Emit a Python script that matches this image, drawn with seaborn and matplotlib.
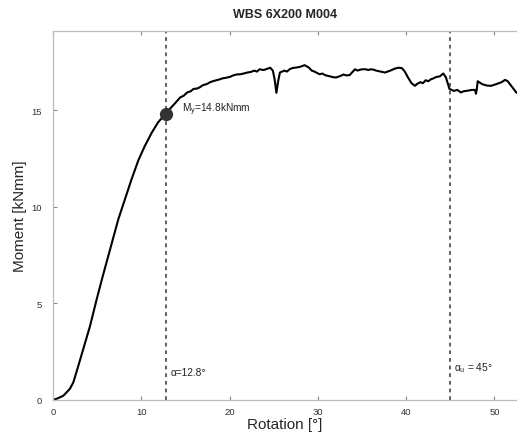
import matplotlib
matplotlib.use("Agg")
import matplotlib.pyplot as plt
import seaborn as sns
import pandas as pd

# Moment-rotation curve, 10 values per line
rotation = [0.0, 0.5, 1.17, 1.9, 2.3, 2.87, 3.43, 4.2, 4.95, 5.6,
            6.2, 6.8, 7.4, 8.15, 8.9, 9.66, 10.4, 11.2, 11.9, 12.8,
            13.5, 13.9, 14.4, 14.8, 15.2, 15.6, 15.9, 16.3, 16.6, 17.0,
            17.4, 17.8, 18.1, 18.5, 18.9, 19.2, 19.6, 20.0, 20.4, 20.8,
            21.2, 21.6, 22.0, 22.4, 22.8, 23.1, 23.4, 23.8, 24.0, 24.3,
            24.6, 24.9, 25.1, 25.3, 25.5, 25.7, 26.2, 26.5, 26.8, 27.1,
            27.4, 27.7, 28.0, 28.5, 29.0, 29.3, 29.6, 30.2, 30.5, 30.8,
            31.1, 31.4, 31.8, 32.1, 32.6, 32.9, 33.2, 33.6, 34.2, 34.5,
            34.8, 35.1, 35.4, 35.7, 36.0, 36.3, 36.6, 37.1, 37.6, 37.9,
            38.2, 38.7, 39.1, 39.5, 39.8, 40.2, 40.6, 41.0, 41.2, 41.6,
            41.9, 42.2, 42.5, 42.8, 43.1, 43.4, 43.8, 44.2, 44.5, 44.9,
            45.4, 45.8, 46.2, 46.5, 46.8, 47.1, 47.4, 47.8, 47.9, 48.0,
            48.1, 48.6, 49.1, 49.6, 50.2, 50.8, 51.2, 51.5, 52.0, 52.5]
moment = [0.0, 0.08, 0.22, 0.57, 0.91, 1.77, 2.64, 3.84, 5.22, 6.35,
          7.35, 8.35, 9.36, 10.4, 11.43, 12.4, 13.15, 13.85, 14.37, 14.85,
          15.2, 15.4, 15.66, 15.75, 15.92, 15.98, 16.1, 16.12, 16.18, 16.3,
          16.35, 16.45, 16.5, 16.55, 16.6, 16.65, 16.68, 16.72, 16.8, 16.85,
          16.86, 16.9, 16.95, 16.98, 17.05, 17.0, 17.12, 17.08, 17.1, 17.15,
          17.2, 17.05, 16.6, 15.9, 16.5, 16.95, 17.05, 17.0, 17.12, 17.18,
          17.2, 17.22, 17.25, 17.33, 17.2, 17.05, 17.0, 16.86, 16.9, 16.82,
          16.78, 16.75, 16.7, 16.7, 16.78, 16.85, 16.8, 16.82, 17.12, 17.05,
          17.1, 17.12, 17.12, 17.08, 17.12, 17.1, 17.05, 17.0, 16.95, 17.0,
          17.05, 17.15, 17.2, 17.18, 17.03, 16.7, 16.4, 16.26, 16.35, 16.45,
          16.4, 16.55, 16.5, 16.6, 16.65, 16.72, 16.75, 16.9, 16.7, 16.1,
          16.0, 16.05, 15.92, 15.98, 16.0, 16.02, 16.05, 16.05, 15.85, 16.1,
          16.5, 16.35, 16.28, 16.26, 16.35, 16.45, 16.57, 16.5, 16.2, 15.9]

yield_rot = 12.8
yield_moment = 14.8
ultimate_rot = 45.0
title_text = "WBS 6X200 M004"
x_ticks = [0, 10, 20, 30, 40, 50]
y_ticks = [0, 5, 10, 15]

df = pd.DataFrame({"Rotation": rotation, "Moment": moment})

sns.set_style("white")
plt.rcParams["font.family"] = ["Liberation Sans", "DejaVu Sans"]
plt.rcParams["mathtext.fontset"] = "custom"
plt.rcParams["mathtext.rm"] = "Liberation Sans"

fig = plt.figure(figsize=(5.17, 4.39), dpi=100)
ax = fig.add_axes([53 / 517, 1 - 401 / 439, (517 - 53) / 517, (401 - 32) / 439])

sns.lineplot(data=df, x="Rotation", y="Moment", ax=ax, color="black", linewidth=1.5,
             sort=False, estimator=None)

ax.axvline(yield_rot, color="#333333", linestyle=(0, (2.5, 2.5)), linewidth=1.1)
ax.axvline(ultimate_rot, color="#333333", linestyle=(0, (2.5, 2.5)), linewidth=1.1)
ax.plot([yield_rot], [yield_moment], marker="o", markersize=8.5, color="#333333", zorder=5)

ax.text(yield_rot + 1.8, yield_moment + 0.25, r"M$_{\mathrm{y}}$=14.8kNmm", fontsize=7.3,
        ha="left", va="center", color="#222222")
ax.text(yield_rot + 0.5, 1.45, "α=12.8°", fontsize=7.3, ha="left", va="center", color="#222222")
ax.text(ultimate_rot + 0.4, 1.7, r"α$_{\mathrm{u}}$ = 45°", fontsize=7.3, ha="left", va="center",
        color="#222222")

ax.set_xlim(0, 52.55)
ax.set_ylim(0, 19.1)
ax.set_xticks(x_ticks)
ax.set_yticks(y_ticks)
ax.tick_params(axis="both", direction="in", length=3, width=0.8, colors="#888888",
               labelcolor="#333333", labelsize=6.8, top=True, bottom=True, left=True)
ax.tick_params(axis="x", pad=5)
ax.tick_params(axis="y", pad=8)

for side in ["left", "bottom", "top"]:
    ax.spines[side].set_color("#bbbbbb")
    ax.spines[side].set_linewidth(0.9)
ax.spines["right"].set_visible(False)

ax.set_xlabel("Rotation [°]", fontsize=11, labelpad=1)
ax.set_ylabel("Moment [kNmm]", fontsize=11, labelpad=3)
ax.set_title(title_text, fontsize=9, fontweight="bold", pad=10)

fig.savefig("out.png", dpi=100)
